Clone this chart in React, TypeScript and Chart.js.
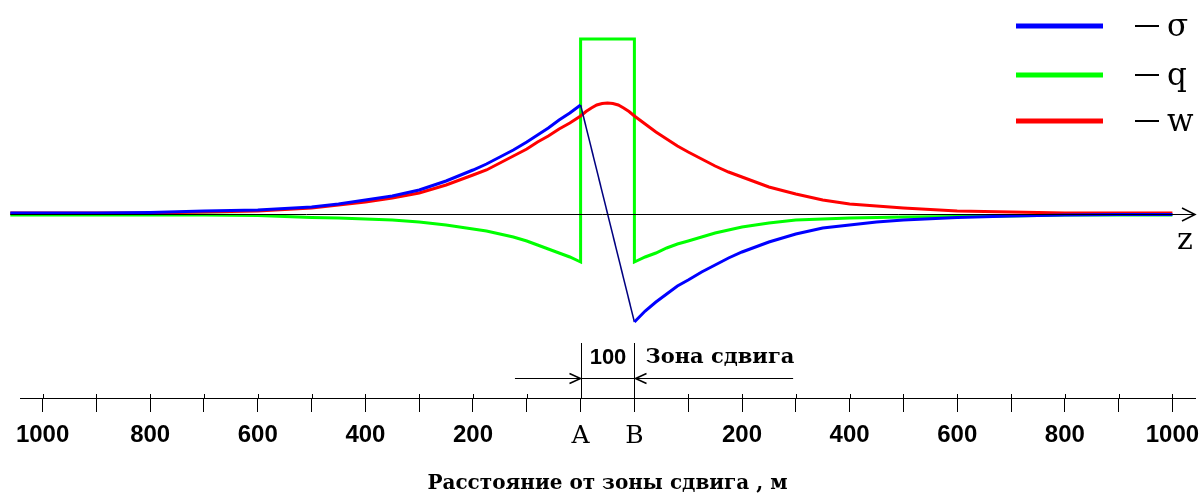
import React, { useEffect, useRef } from 'react';
import { Chart, registerables } from 'chart.js';

Chart.register(...registerables);

// Shear zone: A at x = -50 m, B at x = +50 m (zone width 100 m)
const ZONE_HALF = 50;

// distances from the zone edge (m)
const DIST_LEFT = [0, 20, 40, 60, 80, 100, 125, 150, 175, 200, 250, 300, 350, 400, 450, 500, 600, 700, 800, 900, 1000, 1060];
const DIST_RIGHT = [0, 20, 40, 60, 80, 100, 125, 150, 175, 200, 250, 300, 350, 400, 450, 500, 600, 700, 800, 900, 1000];

// σ (blue)
const SIGMA_LEFT = [109, 101, 94, 86, 79, 72, 64, 57, 50, 44, 33, 24, 18, 14, 10, 7, 4, 3, 1.5, 1, 1, 1];
const SIGMA_RIGHT = [-108, -97, -88, -80, -72, -66, -58, -51, -44, -38, -28, -20, -14, -11, -8, -6, -3.5, -2, -1, -0.5, -0.5];

// q (green)
const Q_LEFT = [-48, -43, -39, -35, -31, -27, -23, -20, -17, -15, -11, -8, -6, -5, -4, -3.5, -1.5, -1, -1, -1, -1, -1];
const Q_RIGHT = [-48, -43, -39, -34, -30, -27, -23, -19, -16, -13, -9, -6, -5, -4, -3.5, -3, -2.5, -2, -1, -1, -1];
const Q_ZONE = 175;

// w (red)
const W_LEFT = [98, 91, 85, 78, 72, 65, 58, 51, 44, 39, 29, 21, 16, 12, 9, 6, 3, 2, 1, 1, 1, 1];
const W_RIGHT = [98, 90, 82, 75, 68, 62, 55, 48, 42, 37, 27, 20, 14, 10, 8, 6, 3, 2, 1, 1, 1];
const ZONE_X = [-40, -30, -20, -10, 0, 10, 20, 30, 40];
const W_ZONE = [102.5, 106, 109, 110.5, 111, 110.5, 109, 106, 102.5];

// bottom axis
const TICK_VALUES = [-1050, -950, -850, -750, -650, -550, -450, -350, -250, -150, -50, 50, 150, 250, 350, 450, 550, 650, 750, 850, 950, 1050];
const TICK_LABELS = ['1000', '', '800', '', '600', '', '400', '', '200', '', 'A', 'B', '', '200', '', '400', '', '600', '', '800', '', '1000'];
const X_MIN = -1092;
const X_MAX = 1092;
const Y_MIN = -184;
const Y_MAX = 184;

const SERIES_LABELS = ['σ', 'q', 'w'];
const SERIES_COLORS = ['#0000ff', '#00ff00', '#ff0000'];
const AXIS_TITLE = 'Расстояние от зоны сдвига , м';
const ZONE_WIDTH_LABEL = '100';
const ZONE_LABEL = 'Зона сдвига';
const ARROW_FROM = -172;
const ARROW_TO = 345;

const leftPts = (vals: number[]) =>
  DIST_LEFT.map((d, i) => ({ x: -ZONE_HALF - d, y: vals[i] })).reverse();
const rightPts = (vals: number[]) =>
  DIST_RIGHT.map((d, i) => ({ x: ZONE_HALF + d, y: vals[i] }));

const decorPlugin = {
  id: 'decor',
  afterDatasetsDraw(chart: any) {
    const { ctx, chartArea } = chart;
    const xs = chart.scales.x;
    const ys = chart.scales.y;
    const y0 = Math.round(ys.getPixelForValue(0)) + 0.5;
    const xStart = xs.getPixelForValue(-ZONE_HALF - DIST_LEFT[DIST_LEFT.length - 1]);
    const xEnd = chartArea.right;
    ctx.save();
    ctx.strokeStyle = '#000';
    ctx.fillStyle = '#000';
    ctx.lineWidth = 1;
    // z axis
    ctx.beginPath();
    ctx.moveTo(xStart, y0);
    ctx.lineTo(xEnd, y0);
    ctx.stroke();
    ctx.lineWidth = 1.5;
    ctx.beginPath();
    ctx.moveTo(xEnd - 13, y0 - 6.5);
    ctx.lineTo(xEnd, y0);
    ctx.lineTo(xEnd - 13, y0 + 6.5);
    ctx.stroke();
    ctx.font = '30px "DejaVu Serif"';
    ctx.textAlign = 'center';
    ctx.textBaseline = 'alphabetic';
    ctx.fillText('z', xEnd - 10, y0 + 34);

    // short tick marks above the bottom axis
    const bottom = chartArea.bottom;
    ctx.lineWidth = 1;
    xs.ticks.forEach((t: any) => {
      const px = Math.round(xs.getPixelForValue(t.value)) + 0.5;
      ctx.beginPath();
      ctx.moveTo(px, bottom - 4);
      ctx.lineTo(px, bottom);
      ctx.stroke();
    });

    // shear zone annotation
    const pa = Math.round(xs.getPixelForValue(-ZONE_HALF)) + 0.5;
    const pb = Math.round(xs.getPixelForValue(ZONE_HALF)) + 0.5;
    ctx.beginPath();
    ctx.moveTo(pa, bottom - 55);
    ctx.lineTo(pa, bottom);
    ctx.moveTo(pb, bottom - 55);
    ctx.lineTo(pb, bottom);
    const ay = bottom - 19.5;
    ctx.moveTo(xs.getPixelForValue(ARROW_FROM), ay);
    ctx.lineTo(xs.getPixelForValue(ARROW_TO), ay);
    ctx.stroke();
    ctx.lineWidth = 1.5;
    ctx.beginPath();
    ctx.moveTo(pa - 12, ay - 5);
    ctx.lineTo(pa - 1, ay);
    ctx.lineTo(pa - 12, ay + 5);
    ctx.moveTo(pb + 12, ay - 5);
    ctx.lineTo(pb + 1, ay);
    ctx.lineTo(pb + 12, ay + 5);
    ctx.stroke();
    ctx.font = 'bold 22px "Liberation Sans", Arial, sans-serif';
    ctx.textAlign = 'center';
    ctx.textBaseline = 'middle';
    ctx.fillText(ZONE_WIDTH_LABEL, (pa + pb) / 2, bottom - 40);
    ctx.font = 'bold 21px "DejaVu Serif"';
    ctx.textAlign = 'left';
    ctx.fillText(ZONE_LABEL, pb + 11, bottom - 40);

    // legend
    const W = chart.width;
    const rows = [26, 75, 121];
    chart.data.datasets.forEach((ds: any, i: number) => {
      const ry = rows[i];
      ctx.strokeStyle = ds.borderColor;
      ctx.lineWidth = 5;
      ctx.beginPath();
      ctx.moveTo(W - 187, ry);
      ctx.lineTo(W - 100, ry);
      ctx.stroke();
      ctx.strokeStyle = '#000';
      ctx.lineWidth = 2;
      ctx.beginPath();
      ctx.moveTo(W - 68, ry);
      ctx.lineTo(W - 44, ry);
      ctx.stroke();
      ctx.font = '31px "DejaVu Serif"';
      ctx.textAlign = 'left';
      ctx.textBaseline = 'alphabetic';
      ctx.fillText(ds.label, W - 36, ry + 10);
    });
    ctx.restore();
  },
};

export default function App() {
  const ref = useRef<HTMLCanvasElement>(null);
  useEffect(() => {
    if (!ref.current) return;
    const isZone = (c: any) => c.p0.parsed.x === -ZONE_HALF && c.p1.parsed.x === ZONE_HALF;
    const chart = new Chart(ref.current, {
      type: 'line',
      data: {
        datasets: [
          {
            label: SERIES_LABELS[0],
            data: [...leftPts(SIGMA_LEFT), ...rightPts(SIGMA_RIGHT)],
            borderColor: SERIES_COLORS[0],
            borderWidth: 3,
            order: 0,
            segment: {
              borderWidth: (c: any) => (isZone(c) ? 1.5 : undefined),
              borderColor: (c: any) => (isZone(c) ? '#000080' : undefined),
            },
          },
          {
            label: SERIES_LABELS[1],
            data: [
              ...leftPts(Q_LEFT),
              { x: -ZONE_HALF, y: Q_ZONE },
              { x: ZONE_HALF, y: Q_ZONE },
              ...rightPts(Q_RIGHT),
            ],
            borderColor: SERIES_COLORS[1],
            borderWidth: 3,
            order: 2,
          },
          {
            label: SERIES_LABELS[2],
            data: [
              ...leftPts(W_LEFT),
              ...ZONE_X.map((x, i) => ({ x, y: W_ZONE[i] })),
              ...rightPts(W_RIGHT),
            ],
            borderColor: SERIES_COLORS[2],
            borderWidth: 3,
            order: 1,
          },
        ],
      },
      options: {
        animation: false,
        responsive: false,
        events: [],
        layout: { padding: { left: 20, right: 8, top: 30, bottom: 0 } },
        elements: {
          point: { radius: 0 },
          line: { tension: 0, fill: false, borderJoinStyle: 'miter' },
        },
        datasets: { line: { clip: false } as any },
        plugins: {
          legend: { display: false },
          tooltip: { enabled: false },
          title: {
            display: true,
            text: AXIS_TITLE,
            position: 'bottom',
            color: '#000',
            font: { family: '"DejaVu Serif"', size: 20, weight: 'bold', lineHeight: 1.3 },
            padding: { top: 0, bottom: 0 },
          },
        },
        scales: {
          x: {
            type: 'linear',
            min: X_MIN,
            max: X_MAX,
            afterBuildTicks: (s: any) => {
              s.ticks = TICK_VALUES.map((v) => ({ value: v }));
            },
            afterFit: (s: any) => {
              s.height = 497 - 398 - 26;
              s.paddingLeft = 0;
              s.paddingRight = 0;
            },
            grid: { drawOnChartArea: false, drawTicks: true, tickLength: 14, color: '#000', lineWidth: 1 },
            border: { display: true, color: '#000', width: 1 },
            ticks: {
              autoSkip: false,
              maxRotation: 0,
              minRotation: 0,
              padding: 9,
              color: '#000',
              font: (c: any) => {
                const l = c.tick && c.tick.label;
                return l === 'A' || l === 'B'
                  ? { family: '"DejaVu Serif"', size: 25, weight: 'normal' }
                  : { family: '"Liberation Sans", Arial, sans-serif', size: 24, weight: 'bold' };
              },
              callback: (_v: any, i: number) => TICK_LABELS[i],
            },
          },
          y: { type: 'linear', min: Y_MIN, max: Y_MAX, display: false },
        },
      },
      plugins: [decorPlugin],
    } as any);
    return () => chart.destroy();
  }, []);
  return (
    <div style={{ position: 'absolute', left: 0, top: 0, width: 1203, height: 497, background: '#fff' }}>
      <canvas ref={ref} width={1203} height={497} style={{ display: 'block' }} />
    </div>
  );
}
